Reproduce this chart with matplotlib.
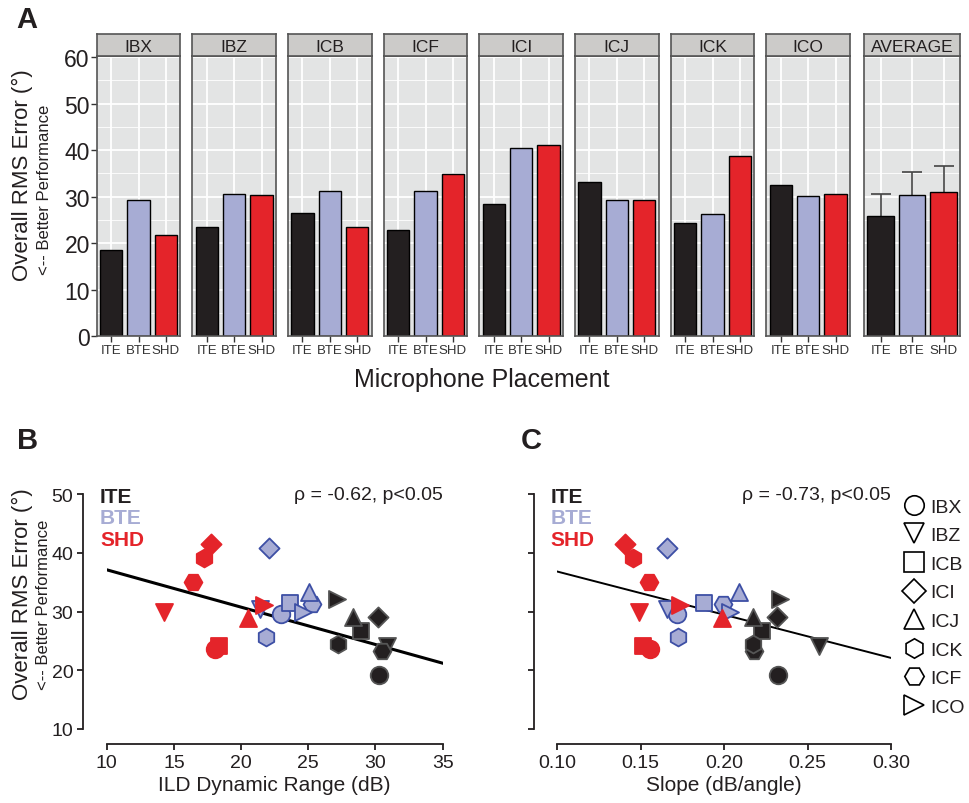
import numpy as np
import matplotlib
matplotlib.use("Agg")
import matplotlib.pyplot as plt
from matplotlib.lines import Line2D

plt.rcParams['font.family'] = ['Liberation Sans', 'DejaVu Sans']

# ---------------- data ----------------
facilities = ['IBX', 'IBZ', 'ICB', 'ICF', 'ICI', 'ICJ', 'ICK', 'ICO']
placements = ['ITE', 'BTE', 'SHD']
bar_ite = [18.5, 23.4, 26.4, 22.8, 28.5, 33.2, 24.4, 32.6]
bar_bte = [29.2, 30.5, 31.3, 31.3, 40.4, 29.2, 26.2, 30.2]
bar_shd = [21.8, 30.3, 23.4, 34.9, 41.2, 29.2, 38.7, 30.6]
avg_mean = [25.8, 30.4, 30.9]
avg_err = [4.7, 4.9, 5.7]

# scatter (order follows facilities)
ild_ite = [30.26, 30.88, 28.92, 30.46, 30.16, 28.30, 27.24, 27.11]
ild_bte = [22.97, 21.40, 23.64, 25.30, 22.10, 25.08, 21.85, 24.63]
ild_shd = [18.06, 14.29, 18.38, 16.40, 17.74, 20.49, 17.24, 21.70]
slope_ite = [0.2325, 0.257, 0.2225, 0.2179, 0.2315, 0.2175, 0.2175, 0.2335]
slope_bte = [0.172, 0.1656, 0.1879, 0.1995, 0.166, 0.2087, 0.1722, 0.2035]
slope_shd = [0.1556, 0.149, 0.1516, 0.155, 0.1406, 0.199, 0.1452, 0.1735]
err_ite = [19.25, 24.2, 26.7, 23.3, 29.0, 29.0, 24.5, 32.1]
err_bte = [29.6, 30.5, 31.45, 31.3, 40.76, 33.4, 25.6, 30.0]
err_shd = [23.7, 30.0, 24.2, 35.0, 41.5, 28.9, 39.05, 31.1]

# fitted regression lines (values at the ends of each x range)
fit_b_x = [10, 35]
fit_b_y = [37.1, 21.2]
fit_c_x = [0.10, 0.30]
fit_c_y = [36.8, 22.1]

stats_b = "\u03c1 = -0.62, p<0.05"
stats_c = "\u03c1 = -0.73, p<0.05"

markers = {'IBX': 'o', 'IBZ': 'v', 'ICB': 's', 'ICI': 'D', 'ICJ': '^',
           'ICK': 'h', 'ICF': 'H', 'ICO': '>'}
msize = {'o': 160, 'v': 150, 's': 135, 'D': 105, '^': 150, 'h': 165, 'H': 165, '>': 150}
legend_order = ['IBX', 'IBZ', 'ICB', 'ICI', 'ICJ', 'ICK', 'ICF', 'ICO']

C_ITE = '#231F20'
C_BTE = '#A7ACD4'
C_SHD = '#E4242A'
fills = [C_ITE, C_BTE, C_SHD]
edges_sc = ['#555555', '#3D4FA5', C_SHD]
TXT = '#231F20'

W, H = 970, 804
fig = plt.figure(figsize=(W / 100, H / 100), dpi=100)


def fx(px):
    return px / W


def fy(py):
    return 1 - py / H


# ---------------- Panel A ----------------
panel_left = [96.7, 192.3, 288.0, 383.7, 479.3, 575.0, 670.7, 766.3, 864.0]
panel_w = [83.7] * 8 + [96.3]
top_plot, bot_plot = 57.3, 337.0
strip_top = 35.0
titles = facilities + ['AVERAGE']
xpos = np.arange(1, 4)
for i, title in enumerate(titles):
    l = panel_left[i]
    w = panel_w[i]
    ax = fig.add_axes([fx(l), fy(bot_plot), fx(w), (bot_plot - top_plot) / H])
    ax.set_facecolor('#E3E4E4')
    ax.set_xlim(0.47, 3.53)
    ax.set_ylim(0, 60.2)
    ax.set_yticks(np.arange(0, 61, 10))
    ax.set_yticks(np.arange(5, 60, 10), minor=True)
    ax.set_xticks(xpos)
    ax.set_xticklabels(placements, fontsize=9.5, color='#333333')
    ax.grid(which='major', color='white', lw=1.3)
    ax.grid(which='minor', axis='y', color='white', lw=0.6)
    ax.set_axisbelow(True)
    if i < 8:
        vals = [bar_ite[i], bar_bte[i], bar_shd[i]]
    else:
        vals = avg_mean
        ax.errorbar(xpos, avg_mean, yerr=avg_err, fmt='none', ecolor='#444444',
                    elinewidth=1.2, capsize=7.5, capthick=1.2, zorder=1.5)
    ax.bar(xpos, vals, width=0.82 if i < 8 else 0.84, color=fills,
           edgecolor='black', linewidth=1.0, zorder=2)
    for s in ax.spines.values():
        s.set_color('#555555')
        s.set_linewidth(1.2)
    ax.tick_params(axis='x', length=4, width=1, color='#333333', pad=2)
    ax.tick_params(which='minor', length=0)
    if i == 0:
        ax.tick_params(axis='y', length=4, width=1, color='#333333',
                       labelsize=16.5, labelcolor=TXT, pad=1)
    else:
        ax.tick_params(axis='y', length=0, labelleft=False)
    # strip
    sax = fig.add_axes([fx(l), fy(top_plot), fx(w), (top_plot - strip_top) / H])
    sax.set_facecolor('#CCCBC9')
    sax.set_xticks([])
    sax.set_yticks([])
    for s in sax.spines.values():
        s.set_color('#555555')
        s.set_linewidth(1.2)
    sax.text(0.5, 0.45, title, ha='center', va='center', fontsize=12.5,
             color=TXT, transform=sax.transAxes)

fig.text(fx(22), fy(175), "Overall RMS Error (\u00b0)", rotation=90, ha='center',
         va='center', fontsize=16, color=TXT)
fig.text(fx(45), fy(190), "<-- Better Performance", rotation=90, ha='center',
         va='center', fontsize=12, color=TXT)
fig.text(fx(482), fy(380), "Microphone Placement", ha='center', va='center',
         fontsize=18, color=TXT)
fig.text(fx(27), fy(20), "A", ha='center', va='center', fontsize=21,
         fontweight='bold', color=TXT)

# ---------------- Panels B and C ----------------
bot_sc, top_sc = 730.0, 495.0
axB = fig.add_axes([fx(106.7), fy(bot_sc), fx(442.7 - 106.7), (bot_sc - top_sc) / H])
axC = fig.add_axes([fx(557.3), fy(bot_sc), fx(891.0 - 557.3), (bot_sc - top_sc) / H])

groups_b = [ild_ite, ild_bte, ild_shd]
groups_c = [slope_ite, slope_bte, slope_shd]
groups_y = [err_ite, err_bte, err_shd]

for ax, groups, xlim, xticks, xfmt, xlabel, stat, fitx, fity, flw in [
        (axB, groups_b, (10, 35), np.arange(10, 36, 5), '{:.0f}', 'ILD Dynamic Range (dB)',
         stats_b, fit_b_x, fit_b_y, 2.2),
        (axC, groups_c, (0.10, 0.30), np.arange(0.10, 0.301, 0.05), '{:.2f}', 'Slope (dB/angle)',
         stats_c, fit_c_x, fit_c_y, 1.4)]:
    ax.set_xlim(*xlim)
    ax.set_ylim(10, 50)
    for gi in range(3):
        for k, fac in enumerate(facilities):
            m = markers[fac]
            ax.scatter(groups[gi][k], groups_y[gi][k], marker=m, s=msize[m],
                       facecolor=fills[gi], edgecolor=edges_sc[gi],
                       linewidth=1.3, zorder=3 + gi, clip_on=False)
    ax.plot(fitx, fity, color='black', lw=flw, zorder=2)
    ax.spines['top'].set_visible(False)
    ax.spines['right'].set_visible(False)
    ax.spines['left'].set_position(('outward', 17))
    ax.spines['bottom'].set_position(('outward', 11))
    ax.spines['left'].set_bounds(10, 50)
    ax.spines['bottom'].set_bounds(*xlim)
    for s in ('left', 'bottom'):
        ax.spines[s].set_color(TXT)
        ax.spines[s].set_linewidth(1.3)
    ax.set_xticks(xticks)
    ax.set_xticklabels([xfmt.format(v) for v in xticks])
    ax.set_yticks(np.arange(10, 51, 10))
    ax.tick_params(length=4, width=1.3, color=TXT, labelsize=14, labelcolor=TXT, pad=3)
    ax.set_xlabel(xlabel, fontsize=15, color=TXT, labelpad=3)
    ax.text(1.0, 1.0, stat, transform=ax.transAxes, ha='right', va='center',
            fontsize=14, color=TXT)
    ax.patch.set_visible(False)
    for j, (lab, col) in enumerate(zip(placements, fills)):
        ax.text(-0.02, 0.99 - j * 0.092, lab, transform=ax.transAxes, ha='left',
                va='center', fontsize=15, fontweight='bold', color=col)

axC.tick_params(axis='y', labelleft=False)

fig.text(fx(22), fy(594), "Overall RMS Error (\u00b0)", rotation=90, ha='center',
         va='center', fontsize=16, color=TXT)
fig.text(fx(44), fy(605), "<-- Better Performance", rotation=90, ha='center',
         va='center', fontsize=12, color=TXT)
fig.text(fx(28), fy(441), "B", ha='center', va='center', fontsize=21,
         fontweight='bold', color=TXT)
fig.text(fx(531), fy(441), "C", ha='center', va='center', fontsize=21,
         fontweight='bold', color=TXT)

handles = [Line2D([], [], marker=markers[f], linestyle='none',
                  markersize=14 if markers[f] != 'D' else 12,
                  markerfacecolor='white', markeredgecolor='black', markeredgewidth=1.2)
           for f in legend_order]
fig.legend(handles, legend_order, loc='upper left', bbox_to_anchor=(fx(905), fy(499)),
           frameon=False, fontsize=14, handlelength=0.9, handletextpad=0.4,
           labelspacing=0.565, borderpad=0, borderaxespad=0, labelcolor=TXT)

fig.savefig('out.png', dpi=100)
